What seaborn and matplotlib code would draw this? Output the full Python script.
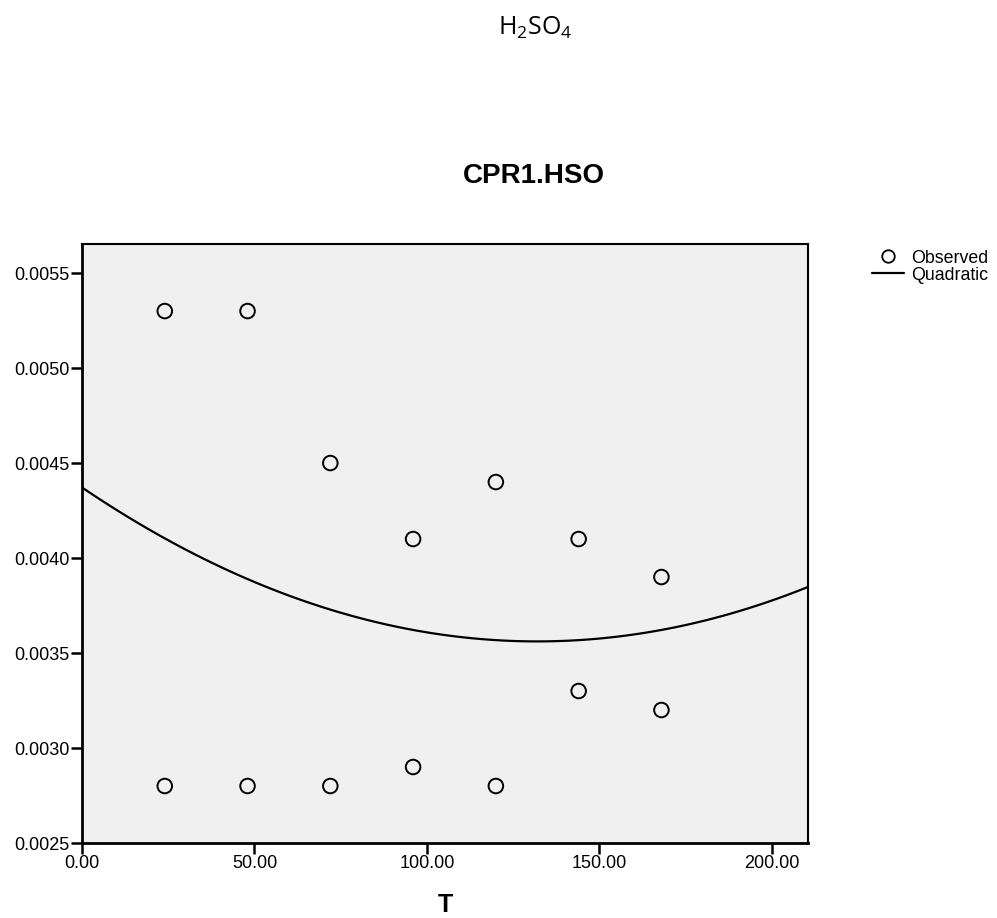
import numpy as np
import pandas as pd
import matplotlib
matplotlib.use("Agg")
import matplotlib.pyplot as plt
import seaborn as sns
from matplotlib.lines import Line2D

T = [24, 48, 72, 96, 120, 144, 168, 24, 48, 72, 96, 120, 144, 168]
CPR = [0.0053, 0.0053, 0.0045, 0.0041, 0.0044, 0.0041, 0.0039,
       0.0028, 0.0028, 0.0028, 0.0029, 0.0028, 0.0033, 0.0032]
x_ticks = [0, 50, 100, 150, 200]
y_ticks = [0.0025, 0.0030, 0.0035, 0.0040, 0.0045, 0.0050, 0.0055]

df = pd.DataFrame({"T": T, "CPR1.HSO": CPR})

sns.set_style("white")
plt.rcParams['font.family'] = ['Liberation Sans', 'DejaVu Sans']
plt.rcParams['text.color'] = 'black'
plt.rcParams['xtick.color'] = 'black'
plt.rcParams['ytick.color'] = 'black'
plt.rcParams['axes.labelcolor'] = 'black'

fig = plt.figure(figsize=(9.97, 9.18), dpi=100)
ax = fig.add_axes([82/997, 1-843/918, (808-82)/997, (843-244)/918])
ax.set_facecolor('#F0F0F0')
ax.set_xlim(0, 210.5)
ax.set_ylim(0.0025, 0.005653)

sns.regplot(data=df, x="T", y="CPR1.HSO", order=2, ci=None, truncate=False,
            scatter=False, ax=ax, line_kws=dict(color='black', lw=1.6))
sns.scatterplot(data=df, x="T", y="CPR1.HSO", ax=ax, marker='o', s=110,
                facecolor='none', edgecolor='black', linewidth=1.4, zorder=5)

ax.set_xticks(x_ticks)
ax.set_xticklabels([f"{v:.2f}" for v in x_ticks], fontsize=13)
ax.set_yticks(y_ticks)
ax.set_yticklabels([f"{v:.4f}" for v in y_ticks], fontsize=13)
ax.tick_params(axis='both', direction='out', length=8, width=1.8, color='black',
               bottom=True, left=True, pad=1)
for side, sp in ax.spines.items():
    sp.set_visible(True)
    sp.set_color('black')
    sp.set_linewidth(2.0 if side in ('left', 'bottom') else 1.5)

ax.set_xlabel("")
ax.set_ylabel("")
fig.text(445/997, 1-905/918, "T", ha='center', va='center',
         fontsize=18, fontweight='bold')

fig.text(534/997, 1-176/918, "CPR1.HSO", ha='center', va='center',
         fontsize=20, fontweight='bold')
fig.text(535/997, 1-28/918, r"$\mathregular{H_2SO_4}$", ha='center', va='center',
         fontsize=18, family=['Open Sans', 'DejaVu Sans'])

handles = [Line2D([], [], marker='o', ls='none', mfc='none', mec='black', ms=9, mew=1.3),
           Line2D([], [], color='black', lw=1.6)]
fig.legend(handles, ["Observed", "Quadratic"], loc='upper left',
           bbox_to_anchor=(868/997, 1-246/918), frameon=False, fontsize=12.8,
           handlelength=1.85, handletextpad=0.35, labelspacing=0.0,
           borderaxespad=0, borderpad=0.2)

fig.savefig("out.png", dpi=100)
